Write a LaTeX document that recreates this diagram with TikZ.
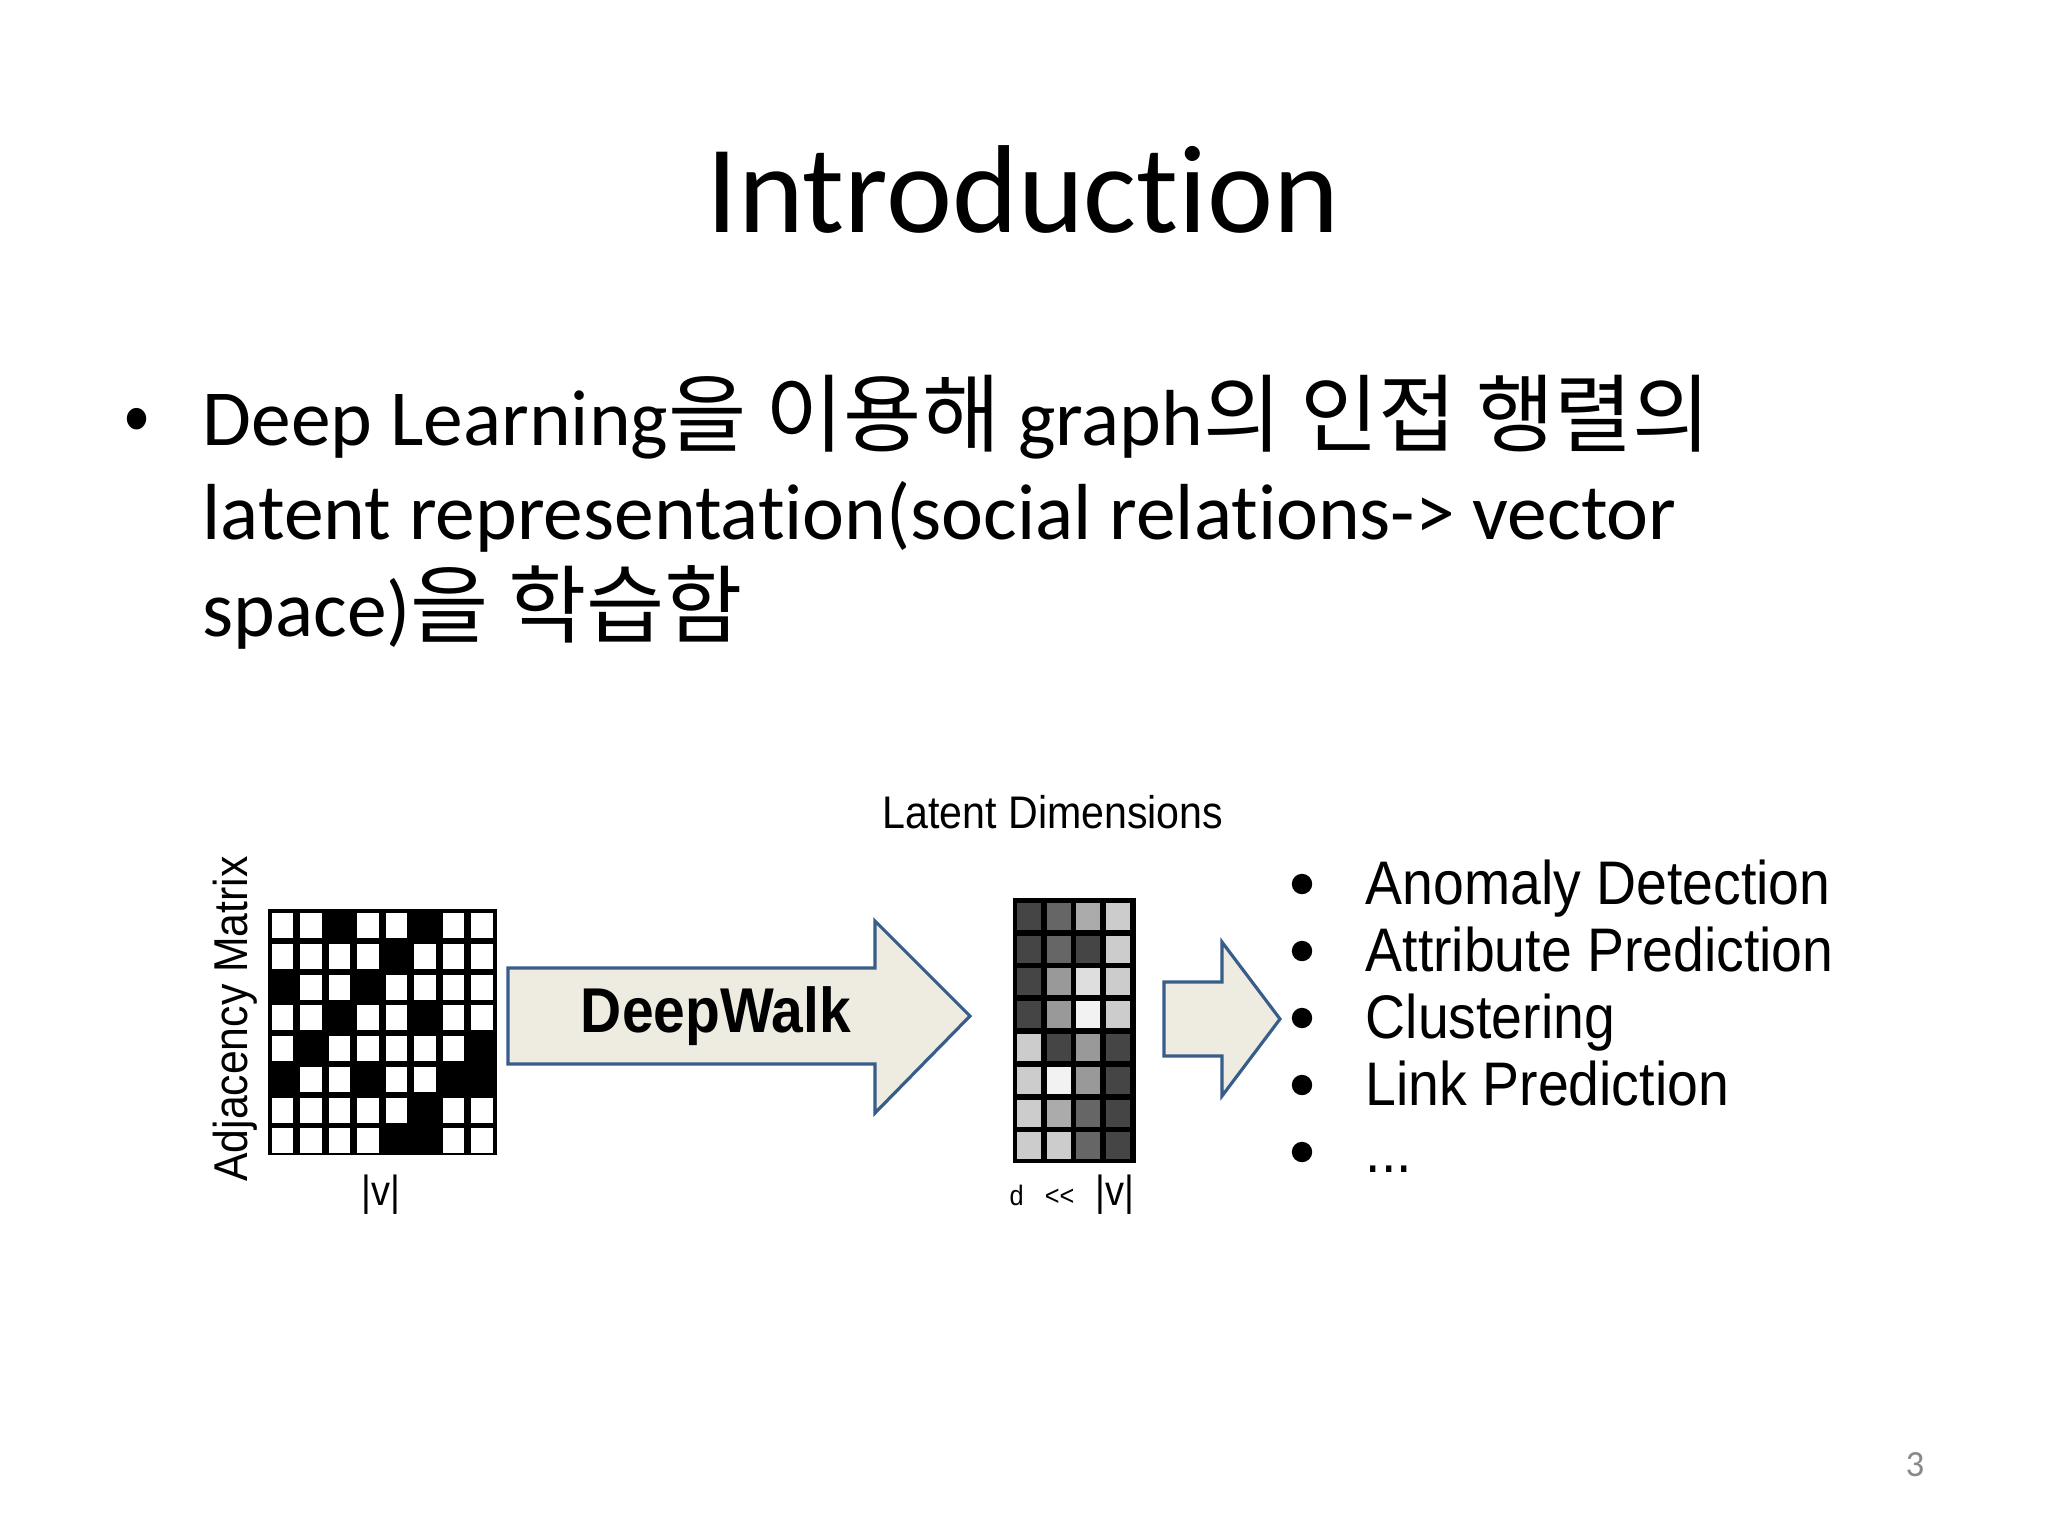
\documentclass[tikz,border=0pt]{standalone}
\usepackage{fontspec}
\setmainfont[Ligatures={NoCommon}]{Carlito}
\newfontfamily\korfont[Scale=1.07]{Noto Sans CJK KR}
\newfontfamily\figfont[FakeStretch=0.9]{Liberation Sans}
\newcommand{\ko}[1]{{\korfont #1}}
\definecolor{arrowfill}{HTML}{EEECE1}
\definecolor{arrowline}{HTML}{385D8A}
\definecolor{pagegray}{HTML}{898989}

\begin{document}
\begin{tikzpicture}[x=0.01cm,y=-0.01cm,
  title/.style={font=\fontsize{35.6}{40}\selectfont, anchor=base, inner sep=0},
  body/.style={font=\fontsize{22.6}{27}\selectfont, anchor=base west, inner sep=0},
  fig/.style={font=\figfont\fontsize{17.5}{20}\selectfont, inner sep=0},
  dot/.style={circle, fill=black, inner sep=0, minimum size=5.8pt},
  arrowshape/.style={fill=arrowfill, draw=arrowline, line width=0.9pt}]

\useasboundingbox (0,0) rectangle (2048,1536);
\fill [white] (0,0) rectangle (2048,1536);

% title and text
\node [title] (title) at (1023,232) {Introduction};
\node [body, anchor=base] (bullet) at (137,445) {\figfont •};
\node [body] (line1) at (202,445) {Deep Learning\ko{을 이용해} graph\ko{의 인접 행렬의}};
\node [body] (line2) at (202,539) {latent representation(social relations-> vector};
\node [body] (line3) at (202,636) {space)\ko{을 학습함}};
\node [font=\fontsize{10.5}{12}\selectfont, text=pagegray, inner sep=0] (page) at (1915,1465) {3};

% adjacency matrix
\fill [black] (268,909) rectangle (497,1155);
\foreach \row [count=\i from 0] in {{0,0,100,0,0,100,0,0},{0,0,0,0,100,0,0,0},{100,0,0,100,0,0,0,0},{0,0,100,0,0,100,0,0},
                                     {0,100,0,0,0,0,0,100},{100,0,0,100,0,0,100,100},{0,0,0,0,0,100,0,0},{0,0,0,0,100,100,0,0}}
  \foreach \c [count=\j from 0] in \row
    \fill [black!\c] ({271.5+\j*28.5},{913.3+\i*30.7}) rectangle +(21.7,25);

\node [fig, font=\figfont\fontsize{13.5}{15}\selectfont, rotate=90] (adjlabel) at (235,1019) {Adjacency Matrix};
\node [fig, font=\figfont\fontsize{12}{14}\selectfont] (adjsize) at (381,1195) {|v|};

% deepwalk arrow
\draw [arrowshape] (508,968) -- (875,968) -- (875,921) -- (970,1016) -- (875,1113) -- (875,1064) -- (508,1064) -- cycle;
\node [fig, font=\figfont\bfseries\fontsize{18}{20}\selectfont] (deepwalk) at (716,1016) {DeepWalk};

% latent dimensions
\fill [black] (1013,898) rectangle (1136,1163);
\foreach \row [count=\i from 0] in {{73,60,33,20},{73,60,73,20},{73,40,13,20},{73,40,5,20},
                                     {20,73,40,73},{20,5,40,73},{20,33,60,73},{20,20,60,73}}
  \foreach \c [count=\j from 0] in \row
    \fill [black!\c] ({1016.7+\j*29.8},{902.7+\i*32.8}) rectangle +(24,27);

\node [fig, font=\figfont\fontsize{13}{15}\selectfont] (latentlabel) at (1053,812) {Latent Dimensions};
\node [fig, font=\figfont\fontsize{12}{14}\selectfont] (latentsize) at (1072,1195) {{\fontsize{8}{10}\selectfont d\hspace{6pt}{<}{<}}\hspace{6pt}|v|};

% second arrow
\draw [arrowshape] (1164,982) -- (1222,982) -- (1222,942) -- (1280,1019) -- (1222,1096) -- (1222,1056) -- (1164,1056) -- cycle;

% applications
\foreach \item [count=\k from 0] in {Anomaly Detection, Attribute Prediction, Clustering, Link Prediction, {.}{.}{.}} {
  \node [dot] (dot\k) at (1302,{884+\k*67}) {};
  \node [fig, anchor=base west] (app\k) at (1365,{904+\k*67}) {\item};
}

\end{tikzpicture}
\end{document}
